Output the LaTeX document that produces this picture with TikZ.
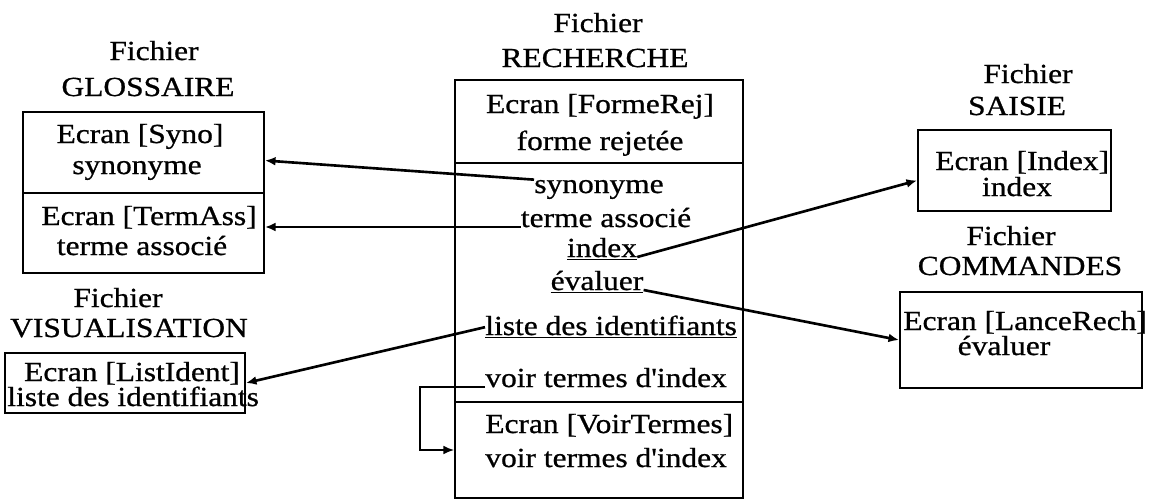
\documentclass[tikz,border=0pt]{standalone}
\usepackage{fontspec}
\setmainfont{Liberation Serif}[FakeStretch=1.14,FakeBold=0.8,Ligatures=TeXOff]
\usepackage{tikz}
\usetikzlibrary{calc}
\usetikzlibrary{fit}
\usetikzlibrary{arrows.meta}

\tikzset{
  ecran/.style={draw, line width=1.1pt, inner sep=0pt},
  txt/.style={inner sep=0pt, anchor=base, font=\fontsize{15.7}{19}\selectfont},
  txtl/.style={txt, anchor=base west},
  lien/.style={line width=1.5pt, -{Latex[length=6pt,width=5pt]}},
}

\begin{document}
\begin{tikzpicture}[x=0.02cm,y=-0.02cm]
\useasboundingbox (0,0) rectangle (1150,501);

% Fichier GLOSSAIRE
\node[txt] (glosF) at (154,60) {Fichier};
\node[txt] (glosN) at (148,96) {GLOSSAIRE};
\node[ecran, fit={(23,112) (264,193)}] (glosSyno) {};
\node[ecran, fit={(23,193) (264,273)}] (glosTerm) {};
\node[txt] (glosSynoA) at (140,143) {Ecran [Syno]};
\node[txt] (glosSynoB) at (137,174) {synonyme};
\node[txt] (glosTermA) at (149,225) {Ecran [TermAss]};
\node[txt] (glosTermB) at (142,255) {terme associé};

% Fichier VISUALISATION
\node[txt] (visuF) at (118,307) {Fichier};
\node[txt] (visuN) at (129,337) {VISUALISATION};
\node[ecran, fit={(5,353) (245,413)}] (visuList) {};
\node[txt] (visuListA) at (132,381) {Ecran [ListIdent]};
\node[txtl] (visuListB) at (7,406) {liste des identifiants};

% Fichier RECHERCHE
\node[txt] (rechF) at (598,32) {Fichier};
\node[txt] (rechN) at (595,67) {RECHERCHE};
\node[ecran, fit={(455,80) (743,163)}] (rechForme) {};
\node[ecran, fit={(455,163) (743,402)}] (rechItems) {};
\node[ecran, fit={(455,402) (743,498)}] (rechVoir) {};
\node[txt] (rechFormeA) at (600,113) {Ecran [FormeRej]};
\node[txt] (rechFormeB) at (600,150) {forme rejetée};
\node[txt] (rechSyn) at (599,193) {synonyme};
\node[txt] (rechTerm) at (606,227) {terme associé};
\node[txt] (rechIndex) at (602,257) {\underline{index}};
\node[txt] (rechEval) at (597,290) {\underline{évaluer}};
\node[txtl] (rechListe) at (485,335) {\underline{liste des identifiants}};
\node[txtl] (rechVoirT) at (485,387) {voir termes d'index};
\node[txtl] (rechVoirA) at (485,433) {Ecran [VoirTermes]};
\node[txtl] (rechVoirB) at (485,467) {voir termes d'index};

% Fichier SAISIE
\node[txt] (saisF) at (1028,83) {Fichier};
\node[txt] (saisN) at (1017,115) {SAISIE};
\node[ecran, fit={(918,130) (1111,211)}] (saisIndex) {};
\node[txtl] (saisIndexA) at (935,170) {Ecran [Index]};
\node[txt] (saisIndexB) at (1017,196) {index};

% Fichier COMMANDES
\node[txt] (cmdF) at (1011,245) {Fichier};
\node[txt] (cmdN) at (1020,275) {COMMANDES};
\node[ecran, fit={(900,292) (1142,388)}] (cmdLance) {};
\node[txtl] (cmdLanceA) at (903,330) {Ecran [LanceRech]};
\node[txt] (cmdLanceB) at (1004,355) {évaluer};

% liens
\draw[lien] (rechSyn.north west) -- ($(glosSyno.east)+(0,8)$);
\draw[lien] (rechTerm.base west) -- (rechTerm.base west -| glosTerm.east);
\draw[lien] (rechIndex.base east) -- ($(saisIndex.west)+(0,10)$);
\draw[lien] (rechEval.base east) -- (cmdLance.west);
\draw[lien] (rechListe.west) -- (visuList.east);
\draw[lien, line width=1pt] (rechVoirT.base west) -- ++(-65,0) |- (rechVoir.west);

\end{tikzpicture}
\end{document}
